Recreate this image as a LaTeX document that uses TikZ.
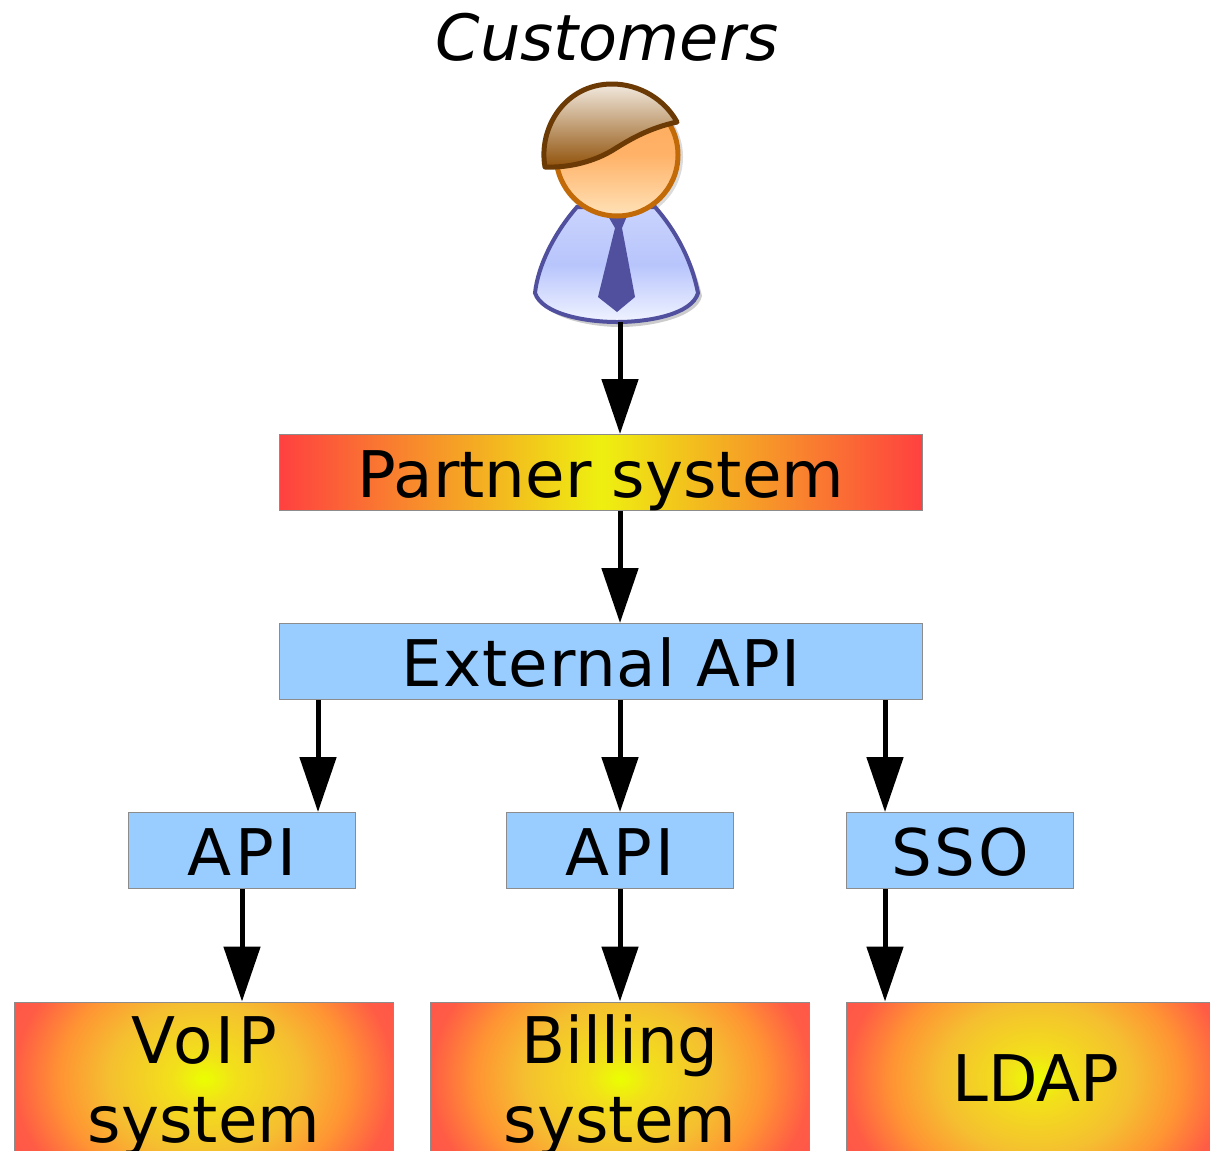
\documentclass[tikz,border=0pt]{standalone}
\usepackage{fontspec}
\setmainfont{DejaVu Sans}
\usetikzlibrary{arrows.meta}
\definecolor{apiblue}{HTML}{99CCFF}
\definecolor{boxgray}{HTML}{8C8C8C}
\definecolor{glowred}{HTML}{FF4040}
\definecolor{glowyellow}{HTML}{EEF010}
\definecolor{hairdark}{HTML}{6B3A05}
\definecolor{hairbrown}{HTML}{8F5008}
\definecolor{hairpale}{HTML}{F2EADF}
\definecolor{skinline}{HTML}{C26A08}
\definecolor{skinmid}{HTML}{FFB268}
\definecolor{skinpale}{HTML}{FFE2B8}
\definecolor{shirtline}{HTML}{50509F}
\definecolor{shirtmid}{HTML}{B8C5FC}
\definecolor{shirtpale}{HTML}{F0F3FF}
\pgfdeclareradialshading{glowfill}{\pgfpointorigin}{%
  rgb(0bp)=(0.92,1,0);
  rgb(4bp)=(0.95,0.88,0.1);
  rgb(12.5bp)=(0.96,0.75,0.19);
  rgb(19bp)=(1,0.58,0.2);
  rgb(25bp)=(1,0.36,0.27);
  rgb(29bp)=(1,0.33,0.3);
  rgb(50bp)=(1,0.33,0.3)}
\newcommand{\spaced}[2]{{\addfontfeature{LetterSpace=#1}#2}}
\tikzset{
  boxtext/.style={font=\fontsize{36.6}{44.5}\selectfont, align=center, inner sep=0pt, draw=boxgray, line width=.02cm},
  oneline/.style={text height=1.2cm, text depth=.2cm},
  twolines/.style={text height=2.74cm, text depth=.2cm},
  apibox/.style={boxtext, oneline, fill=apiblue, minimum height=1.52cm},
  barbox/.style={boxtext, oneline, left color=glowred, right color=glowred, middle color=glowyellow, minimum height=1.52cm, minimum width=12.88cm},
  glowbox/.style={boxtext, minimum width=7.6cm, minimum height=3.06cm,
    path picture={\shade[shading=glowfill] ([yshift=-1.5cm]path picture bounding box.south west) rectangle ([yshift=1.5cm]path picture bounding box.north east);}},
  flow/.style={-{Triangle[length=1.1cm,width=.72cm]}, line width=.1cm}
}
\begin{document}
\begin{tikzpicture}[x = .02cm, y = -.02cm]
  \useasboundingbox (0,0) rectangle (1210,1150);
  \clip (0,0) rectangle (1210,1150);

  \node[font=\fontsize{36.3}{44}\selectfont\itshape, inner sep=0pt] (customers) at (607,37) {Customers};

  % person
  \fill[black, opacity=.2] (580,210) .. controls (555,235) and (540,270) .. (537,296) .. controls (545,318) and (590,327) .. (620,327) .. controls (650,327) and (697,318) .. (702,296) .. controls (695,265) and (680,235) .. (658,210) -- cycle; %shadow
  \fill[black, opacity=.14] (619,157) circle [radius=64]; %head shadow
  \draw[shirtline, line width=.08cm, top color=shirtmid!75!white, bottom color=shirtpale, middle color=shirtmid] (577,207) .. controls (555,232) and (538,265) .. (535,293) .. controls (542,314) and (585,322) .. (617,322) .. controls (650,322) and (692,314) .. (698,293) .. controls (692,262) and (677,232) .. (655,207) -- cycle; %body
  \fill[shirtline] (608,216) -- (627,216) -- (622,228) -- (635,297) -- (617,312) -- (598,297) -- (615,228) -- cycle; %tie
  \draw[skinline, line width=.1cm, top color=skinmid!85!orange, bottom color=skinpale, middle color=skinmid] (617,155) circle [radius=61]; %head
  \draw[hairdark, line width=.1cm, line join=round, top color=hairpale, bottom color=hairbrown] (545,167) .. controls (538,128) and (565,84) .. (612,84) .. controls (640,84) and (665,100) .. (677,122) .. controls (650,128) and (632,138) .. (613,150) .. controls (595,161) and (570,168) .. (545,167) -- cycle; %hair
  \coordinate (person) at (620,322);

  % boxes
  \node[barbox] (partner) at (601,472.5) {Partner system};
  \node[apibox, minimum width=12.88cm] (external) at (601,661.5) {\spaced{1.5}{External API}};
  \node[apibox, minimum width=4.56cm] (apia) at (242,850.5) {\spaced{6}{API}};
  \node[apibox, minimum width=4.56cm] (apib) at (620,850.5) {\spaced{6}{API}};
  \node[apibox, minimum width=4.56cm] (sso) at (960,850.5) {\spaced{4}{SSO}};
  \node[glowbox, twolines] (voip) at (204,1078.5) {\spaced{5}{VoIP}\\system};
  \node[glowbox, twolines] (billing) at (620,1078.5) {Billing\\system};
  \node[glowbox] (ldap) at (1036,1078.5) {LDAP};

  % arrows
  \coordinate (mid) at (620,0);
  \coordinate (lefttap) at (318,0);
  \coordinate (righttap) at (885,0);
  \draw[flow] (person) -- (partner.north -| mid);
  \draw[flow] (partner.south -| mid) -- (external.north -| mid);
  \draw[flow] (external.south -| lefttap) -- (apia.north -| lefttap);
  \draw[flow] (external.south -| mid) -- (apib.north);
  \draw[flow] (external.south -| righttap) -- (sso.north -| righttap);
  \draw[flow] (apia.south) -- (voip.north -| apia.south);
  \draw[flow] (apib.south) -- (billing.north);
  \draw[flow] (sso.south -| righttap) -- (ldap.north -| righttap);
\end{tikzpicture}
\end{document}
